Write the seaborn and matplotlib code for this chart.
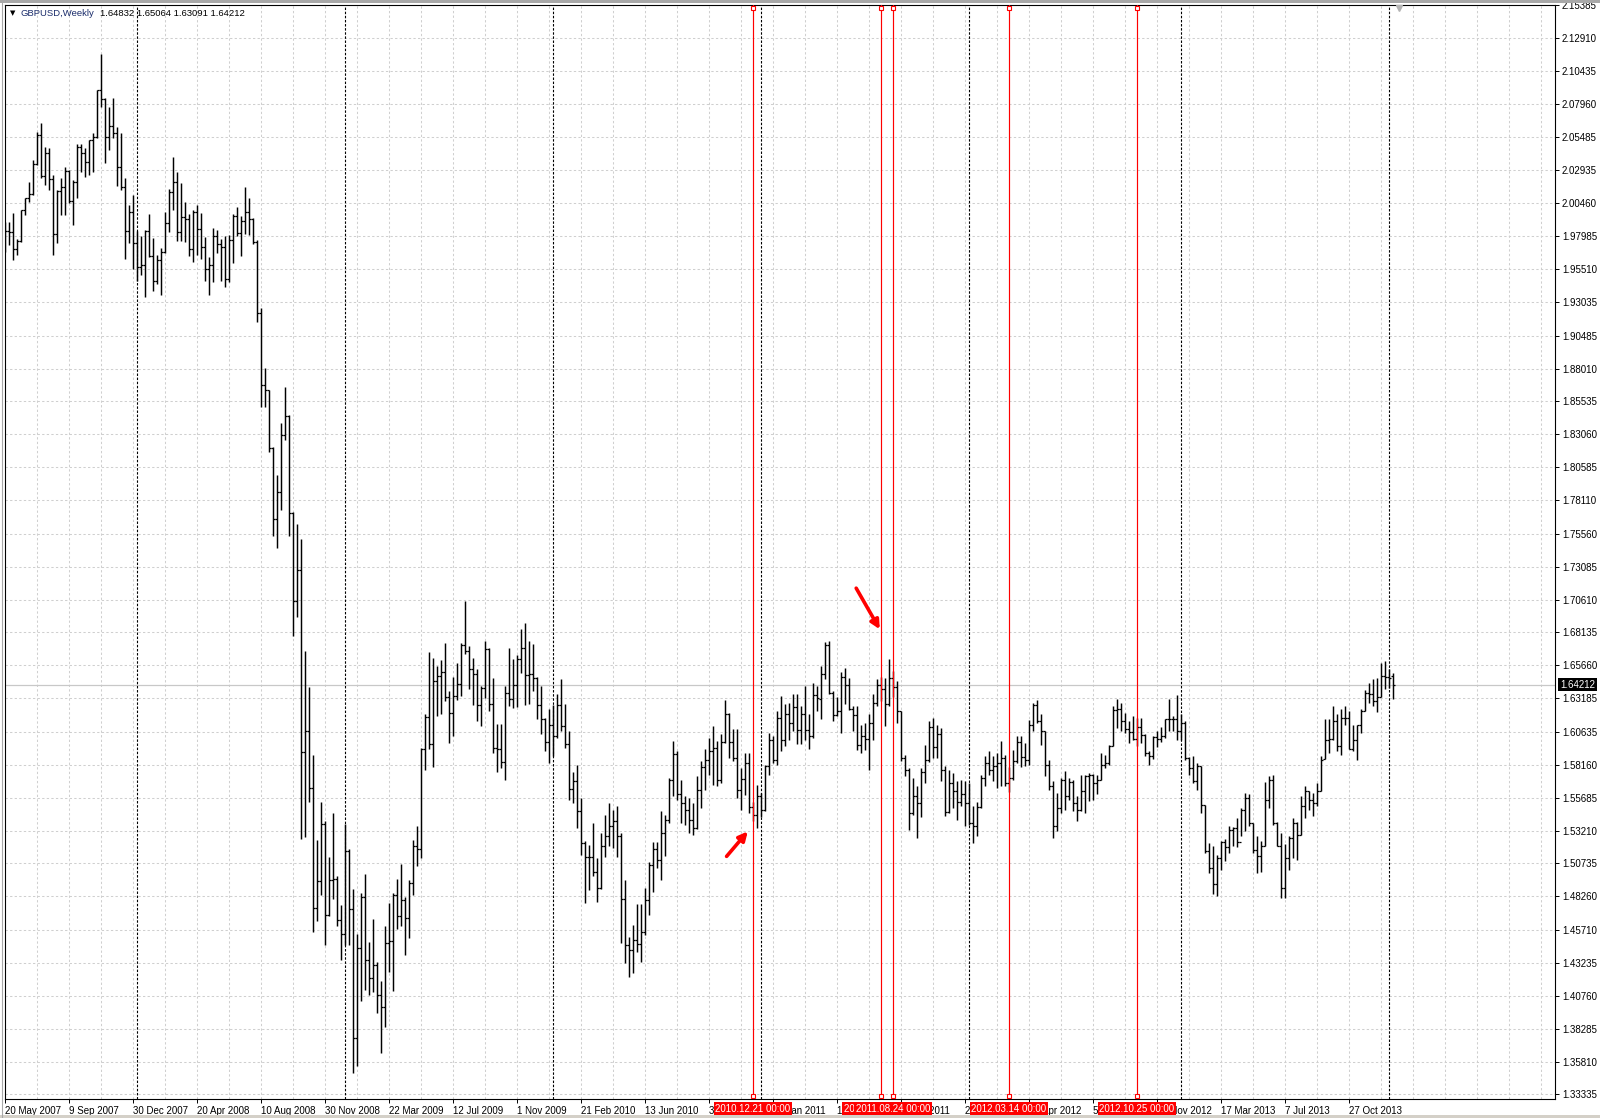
import numpy as np
import matplotlib
matplotlib.use("Agg")
import matplotlib.pyplot as plt
import seaborn as sns

# GBPUSD weekly bars, bar 0 = week of 20 May 2007
bar_open = [
    1.9850, 1.9838, 1.9826, 1.9700, 1.9763, 1.9992, 2.0082, 2.0113, 2.0344, 2.0560,
    2.0251, 2.0422, 2.0228, 1.9818, 2.0138, 2.0170, 2.0291, 2.0065, 2.0208, 2.0472,
    2.0422, 2.0359, 2.0523, 2.0545, 2.0900, 2.0830, 2.0545, 2.0631, 2.0573, 2.0321,
    2.0170, 1.9836, 1.9977, 1.9743, 1.9567, 1.9584, 1.9836, 1.9650, 1.9460, 1.9617,
    1.9680, 1.9894, 2.0133, 2.0203, 1.9826, 1.9944, 1.9931, 1.9700, 1.9982, 1.9851,
    1.9718, 1.9549, 1.9579, 1.9801, 1.9736, 1.9714, 1.9476, 1.9766, 1.9952, 1.9822,
    1.9909, 1.9983, 1.9931, 1.9757, 1.9216, 1.8674, 1.8639, 1.8206, 1.7669, 1.7872,
    1.8300, 1.8440, 1.7712, 1.7049, 1.7287, 1.5910, 1.6074, 1.5641, 1.4740, 1.4939,
    1.5372, 1.4688, 1.4948, 1.4956, 1.4650, 1.4545, 1.5164, 1.4731, 1.3760, 1.4436,
    1.4818, 1.4350, 1.4211, 1.4306, 1.4081, 1.3995, 1.4471, 1.4493, 1.4839, 1.4679,
    1.4796, 1.4666, 1.4926, 1.5208, 1.5186, 1.5932, 1.6178, 1.5970, 1.6448, 1.6485,
    1.6515, 1.6330, 1.6209, 1.6335, 1.6422, 1.6719, 1.6674, 1.6541, 1.6503, 1.6264,
    1.6397, 1.6687, 1.6272, 1.5944, 1.5937, 1.5836, 1.6360, 1.6309, 1.6420, 1.6611,
    1.6699, 1.6490, 1.6498, 1.6473, 1.6264, 1.6163, 1.5987, 1.6113, 1.6032, 1.6264,
    1.6108, 1.5977, 1.5635, 1.5693, 1.5471, 1.5227, 1.5122, 1.5122, 1.5006, 1.4888,
    1.5202, 1.5278, 1.5353, 1.5391, 1.5278, 1.4805, 1.4460, 1.4420, 1.4500, 1.4470,
    1.4560, 1.4800, 1.5060, 1.5180, 1.5100, 1.5303, 1.5400, 1.5705, 1.5900, 1.5600,
    1.5530, 1.5480, 1.5400, 1.5340, 1.5630, 1.5800, 1.5850, 1.5920, 1.5944, 1.5700,
    1.5990, 1.6200, 1.5990, 1.5869, 1.5630, 1.5710, 1.5830, 1.5500, 1.5441, 1.5580,
    1.5480, 1.5806, 1.6000, 1.5856, 1.6170, 1.6000, 1.6200, 1.6130, 1.6250, 1.6080,
    1.6200, 1.6080, 1.6030, 1.6340, 1.6310, 1.6500, 1.6720, 1.6359, 1.6195, 1.6221,
    1.6480, 1.6420, 1.6240, 1.6195, 1.5969, 1.6030, 1.6012, 1.6130, 1.6284, 1.6420,
    1.6384, 1.6271, 1.6473, 1.6400, 1.6221, 1.5868, 1.5780, 1.5453, 1.5579, 1.5529,
    1.5760, 1.5850, 1.6100, 1.5950, 1.6050, 1.5780, 1.5460, 1.5680, 1.5620, 1.5540,
    1.5600, 1.5530, 1.5380, 1.5353, 1.5500, 1.5717, 1.5830, 1.5780, 1.5810, 1.5830,
    1.5870, 1.5680, 1.5720, 1.5845, 1.5990, 1.5876, 1.5851, 1.6120, 1.6264, 1.6146,
    1.6070, 1.5818, 1.5655, 1.5358, 1.5490, 1.5700, 1.5580, 1.5690, 1.5530, 1.5480,
    1.5617, 1.5730, 1.5740, 1.5680, 1.5705, 1.5818, 1.5830, 1.5960, 1.6230, 1.6234,
    1.6145, 1.6083, 1.6060, 1.6010, 1.6100, 1.6040, 1.5906, 1.5880, 1.6025, 1.6012,
    1.6032, 1.6160, 1.6158, 1.6163, 1.6070, 1.6130, 1.5869, 1.5790, 1.5693, 1.5805,
    1.5511, 1.5164, 1.5040, 1.4920, 1.5114, 1.5232, 1.5197, 1.5328, 1.5340, 1.5232,
    1.5479, 1.5567, 1.5378, 1.5177, 1.5127, 1.5202, 1.5554, 1.5705, 1.5378, 1.5202,
    1.4888, 1.5114, 1.5265, 1.5378, 1.5290, 1.5504, 1.5617, 1.5554, 1.5529, 1.5617,
    1.5860, 1.6007, 1.6012, 1.6150, 1.5957, 1.6171, 1.6171, 1.5932, 1.6007, 1.6120,
    1.6221, 1.6359, 1.6347, 1.6297, 1.6330, 1.6485, 1.6480, 1.64832,
]
bar_high = [
    1.9906, 1.9906, 1.9969, 1.9780, 1.9994, 2.0087, 2.0208, 2.0372, 2.0586, 2.0654,
    2.0472, 2.0465, 2.0258, 2.0145, 2.0233, 2.0321, 2.0296, 2.0221, 2.0490, 2.0490,
    2.0460, 2.0523, 2.0573, 2.0900, 2.1169, 2.0837, 2.0774, 2.0837, 2.0623, 2.0578,
    2.0233, 2.0032, 2.0107, 1.9836, 1.9798, 1.9843, 1.9962, 1.9786, 1.9655, 1.9710,
    1.9977, 2.0150, 2.0397, 2.0279, 2.0196, 2.0052, 1.9962, 1.9994, 2.0032, 1.9969,
    1.9793, 1.9642, 1.9856, 1.9844, 1.9779, 1.9801, 1.9809, 1.9965, 2.0017, 1.9952,
    2.0169, 2.0082, 1.9935, 1.9766, 1.9259, 1.8804, 1.8640, 1.8210, 1.8002, 1.8392,
    1.8665, 1.8449, 1.7720, 1.7634, 1.7517, 1.6672, 1.6399, 1.5888, 1.5251, 1.5533,
    1.5394, 1.5121, 1.5450, 1.4978, 1.4761, 1.5372, 1.5180, 1.4883, 1.4545, 1.4848,
    1.4991, 1.4480, 1.4657, 1.4330, 1.4189, 1.4601, 1.4774, 1.4852, 1.4956, 1.5069,
    1.4818, 1.4948, 1.5251, 1.5359, 1.5944, 1.6196, 1.6666, 1.6619, 1.6561, 1.6604,
    1.6737, 1.6372, 1.6480, 1.6586, 1.6737, 1.7051, 1.6712, 1.6624, 1.6541, 1.6410,
    1.6750, 1.6699, 1.6473, 1.6121, 1.6121, 1.6410, 1.6693, 1.6611, 1.6641, 1.6843,
    1.6888, 1.6750, 1.6724, 1.6480, 1.6410, 1.6170, 1.6234, 1.6264, 1.6347, 1.6460,
    1.6272, 1.6070, 1.5761, 1.5818, 1.5567, 1.5240, 1.5215, 1.5378, 1.5114, 1.5303,
    1.5441, 1.5529, 1.5479, 1.5504, 1.5300, 1.4950, 1.4520, 1.4611, 1.4769, 1.4769,
    1.4888, 1.5083, 1.5233, 1.5233, 1.5466, 1.5441, 1.5718, 1.5995, 1.5920, 1.5705,
    1.5579, 1.5567, 1.5529, 1.5730, 1.5844, 1.5932, 1.6020, 1.6108, 1.5995, 1.6045,
    1.6304, 1.6208, 1.6083, 1.6083, 1.5793, 1.5906, 1.5906, 1.5540, 1.5667, 1.5605,
    1.5818, 1.6057, 1.6032, 1.6221, 1.6334, 1.6271, 1.6284, 1.6347, 1.6347, 1.6259,
    1.6410, 1.6196, 1.6435, 1.6410, 1.6560, 1.6745, 1.6749, 1.6372, 1.6330, 1.6515,
    1.6548, 1.6473, 1.6258, 1.6258, 1.6120, 1.6133, 1.6196, 1.6347, 1.6465, 1.6480,
    1.6473, 1.6616, 1.6520, 1.6447, 1.6225, 1.5894, 1.5793, 1.5717, 1.5655, 1.5790,
    1.5969, 1.6145, 1.6170, 1.6120, 1.6095, 1.5806, 1.5780, 1.5755, 1.5692, 1.5700,
    1.5692, 1.5680, 1.5504, 1.5540, 1.5743, 1.5881, 1.5919, 1.5881, 1.5906, 1.5994,
    1.5894, 1.5800, 1.5931, 1.6032, 1.6032, 1.5982, 1.6151, 1.6279, 1.6304, 1.6196,
    1.6075, 1.5856, 1.5693, 1.5605, 1.5718, 1.5768, 1.5718, 1.5705, 1.5579, 1.5743,
    1.5743, 1.5756, 1.5745, 1.5743, 1.5906, 1.5894, 1.5969, 1.6259, 1.6314, 1.6284,
    1.6208, 1.6146, 1.6183, 1.6170, 1.6171, 1.6045, 1.5919, 1.6032, 1.6070, 1.6100,
    1.6163, 1.6309, 1.6183, 1.6339, 1.6200, 1.6146, 1.5875, 1.5881, 1.5831, 1.5806,
    1.5515, 1.5227, 1.5202, 1.5140, 1.5240, 1.5260, 1.5358, 1.5348, 1.5416, 1.5491,
    1.5604, 1.5600, 1.5378, 1.5283, 1.5240, 1.5685, 1.5730, 1.5743, 1.5383, 1.5303,
    1.5222, 1.5278, 1.5416, 1.5383, 1.5579, 1.5655, 1.5617, 1.5604, 1.5680, 1.5881,
    1.6163, 1.6158, 1.6259, 1.6196, 1.6234, 1.6259, 1.6221, 1.6120, 1.6120, 1.6234,
    1.6380, 1.6435, 1.6465, 1.6473, 1.6586, 1.6598, 1.6536, 1.65064,
]
bar_low = [
    1.9680, 1.9730, 1.9617, 1.9655, 1.9755, 1.9960, 2.0057, 2.0107, 2.0334, 2.0233,
    2.0183, 2.0145, 1.9655, 1.9750, 1.9957, 1.9957, 2.0045, 1.9881, 2.0082, 2.0284,
    2.0246, 2.0258, 2.0284, 2.0535, 2.0774, 2.0347, 2.0447, 2.0535, 2.0175, 2.0145,
    1.9624, 1.9750, 1.9554, 1.9458, 1.9509, 1.9340, 1.9640, 1.9383, 1.9440, 1.9358,
    1.9670, 1.9831, 1.9994, 1.9760, 1.9760, 1.9755, 1.9650, 1.9604, 1.9660, 1.9629,
    1.9458, 1.9358, 1.9453, 1.9671, 1.9463, 1.9419, 1.9454, 1.9593, 1.9801, 1.9649,
    1.9814, 1.9809, 1.9736, 1.9151, 1.8509, 1.8509, 1.8176, 1.7539, 1.7448, 1.7734,
    1.8262, 1.7539, 1.6789, 1.6928, 1.5260, 1.5273, 1.5533, 1.4558, 1.4644, 1.4839,
    1.4458, 1.4675, 1.4809, 1.4600, 1.4350, 1.4458, 1.4458, 1.3496, 1.3548, 1.4038,
    1.4124, 1.4081, 1.4103, 1.3951, 1.3648, 1.3843, 1.4254, 1.4111, 1.4579, 1.4601,
    1.4384, 1.4514, 1.4839, 1.5056, 1.5114, 1.5776, 1.5932, 1.5801, 1.6183, 1.6196,
    1.6297, 1.5982, 1.6032, 1.6305, 1.6335, 1.6649, 1.6385, 1.6264, 1.6146, 1.6108,
    1.6322, 1.6221, 1.5907, 1.5761, 1.5793, 1.5705, 1.6259, 1.6246, 1.6254, 1.6506,
    1.6264, 1.6272, 1.6372, 1.6158, 1.6045, 1.5919, 1.5831, 1.5882, 1.6020, 1.6070,
    1.5944, 1.5554, 1.5529, 1.5341, 1.5139, 1.4774, 1.4875, 1.4976, 1.4787, 1.4880,
    1.5122, 1.5202, 1.5190, 1.5122, 1.4473, 1.4322, 1.4221, 1.4251, 1.4410, 1.4334,
    1.4535, 1.4686, 1.4862, 1.5039, 1.4950, 1.5127, 1.5380, 1.5579, 1.5554, 1.5378,
    1.5366, 1.5300, 1.5290, 1.5330, 1.5491, 1.5630, 1.5743, 1.5667, 1.5655, 1.5681,
    1.5982, 1.5869, 1.5844, 1.5567, 1.5479, 1.5592, 1.5454, 1.5391, 1.5340, 1.5420,
    1.5470, 1.5743, 1.5831, 1.5818, 1.5919, 1.5957, 1.6007, 1.6070, 1.5975, 1.5975,
    1.6007, 1.5932, 1.6020, 1.6221, 1.6160, 1.6460, 1.6347, 1.6145, 1.6183, 1.6057,
    1.6271, 1.6233, 1.6070, 1.5931, 1.5906, 1.5931, 1.5780, 1.6007, 1.6258, 1.6300,
    1.6107, 1.6258, 1.6330, 1.6133, 1.5843, 1.5730, 1.5328, 1.5441, 1.5265, 1.5420,
    1.5680, 1.5840, 1.5868, 1.5868, 1.5692, 1.5428, 1.5453, 1.5491, 1.5403, 1.5510,
    1.5353, 1.5360, 1.5227, 1.5277, 1.5490, 1.5655, 1.5743, 1.5692, 1.5642, 1.5655,
    1.5655, 1.5610, 1.5700, 1.5831, 1.5801, 1.5806, 1.5818, 1.6070, 1.6133, 1.5969,
    1.5730, 1.5630, 1.5265, 1.5315, 1.5454, 1.5479, 1.5554, 1.5467, 1.5391, 1.5470,
    1.5454, 1.5542, 1.5550, 1.5600, 1.5700, 1.5793, 1.5818, 1.5955, 1.6095, 1.6070,
    1.6057, 1.5982, 1.6007, 1.5960, 1.5982, 1.5881, 1.5818, 1.5860, 1.5950, 1.5990,
    1.6020, 1.6070, 1.6070, 1.6007, 1.6000, 1.5856, 1.5743, 1.5680, 1.5630, 1.5454,
    1.5152, 1.5001, 1.4840, 1.4825, 1.5026, 1.5089, 1.5152, 1.5202, 1.5197, 1.5278,
    1.5315, 1.5353, 1.5152, 1.5001, 1.5013, 1.5202, 1.5491, 1.5366, 1.5202, 1.4812,
    1.4812, 1.5026, 1.5114, 1.5102, 1.5290, 1.5416, 1.5479, 1.5429, 1.5504, 1.5617,
    1.5860, 1.5907, 1.6007, 1.5919, 1.5894, 1.6120, 1.5932, 1.5919, 1.5856, 1.6057,
    1.6221, 1.6284, 1.6259, 1.6213, 1.6330, 1.6385, 1.6397, 1.63091,
]
bar_close = [
    1.9838, 1.9826, 1.9700, 1.9760, 1.9994, 2.0082, 2.0113, 2.0344, 2.0560, 2.0251,
    2.0422, 2.0228, 1.9818, 2.0138, 2.0170, 2.0291, 2.0065, 2.0208, 2.0472, 2.0422,
    2.0359, 2.0523, 2.0545, 2.0900, 2.0830, 2.0545, 2.0631, 2.0573, 2.0321, 2.0170,
    1.9836, 1.9977, 1.9743, 1.9567, 1.9584, 1.9836, 1.9650, 1.9458, 1.9617, 1.9680,
    1.9894, 2.0133, 2.0203, 1.9826, 1.9944, 1.9931, 1.9700, 1.9982, 1.9851, 1.9718,
    1.9549, 1.9579, 1.9801, 1.9736, 1.9714, 1.9476, 1.9766, 1.9952, 1.9822, 1.9909,
    1.9983, 1.9931, 1.9757, 1.9216, 1.8674, 1.8639, 1.8206, 1.7669, 1.7872, 1.8300,
    1.8440, 1.7712, 1.7049, 1.7287, 1.5910, 1.6074, 1.5641, 1.4740, 1.4939, 1.5372,
    1.4688, 1.4948, 1.4956, 1.4650, 1.4545, 1.5164, 1.4731, 1.3760, 1.4436, 1.4818,
    1.4350, 1.4211, 1.4306, 1.4081, 1.3995, 1.4471, 1.4493, 1.4839, 1.4679, 1.4796,
    1.4666, 1.4926, 1.5208, 1.5186, 1.5932, 1.6178, 1.5970, 1.6448, 1.6485, 1.6515,
    1.6330, 1.6209, 1.6335, 1.6422, 1.6719, 1.6674, 1.6541, 1.6503, 1.6264, 1.6397,
    1.6687, 1.6272, 1.5944, 1.5937, 1.5836, 1.6360, 1.6309, 1.6420, 1.6611, 1.6699,
    1.6490, 1.6498, 1.6473, 1.6264, 1.6163, 1.5987, 1.6113, 1.6032, 1.6264, 1.6108,
    1.5977, 1.5635, 1.5693, 1.5471, 1.5227, 1.5122, 1.5122, 1.5006, 1.4888, 1.5202,
    1.5278, 1.5353, 1.5391, 1.5278, 1.4805, 1.4460, 1.4420, 1.4500, 1.4470, 1.4560,
    1.4800, 1.5060, 1.5180, 1.5100, 1.5303, 1.5400, 1.5705, 1.5900, 1.5600, 1.5530,
    1.5480, 1.5400, 1.5340, 1.5630, 1.5800, 1.5850, 1.5920, 1.5944, 1.5700, 1.5990,
    1.6200, 1.5990, 1.5869, 1.5630, 1.5710, 1.5830, 1.5500, 1.5441, 1.5580, 1.5480,
    1.5806, 1.6000, 1.5856, 1.6170, 1.6000, 1.6200, 1.6130, 1.6250, 1.6080, 1.6200,
    1.6080, 1.6030, 1.6340, 1.6320, 1.6500, 1.6720, 1.6359, 1.6195, 1.6221, 1.6480,
    1.6420, 1.6240, 1.6195, 1.5969, 1.6030, 1.6012, 1.6130, 1.6284, 1.6420, 1.6384,
    1.6271, 1.6473, 1.6400, 1.6221, 1.5868, 1.5780, 1.5453, 1.5579, 1.5529, 1.5760,
    1.5850, 1.6100, 1.5950, 1.6050, 1.5780, 1.5460, 1.5680, 1.5620, 1.5540, 1.5600,
    1.5530, 1.5380, 1.5353, 1.5500, 1.5717, 1.5830, 1.5780, 1.5810, 1.5830, 1.5870,
    1.5680, 1.5720, 1.5845, 1.5990, 1.5876, 1.5851, 1.6120, 1.6264, 1.6146, 1.6070,
    1.5818, 1.5655, 1.5358, 1.5490, 1.5700, 1.5580, 1.5690, 1.5530, 1.5480, 1.5617,
    1.5730, 1.5740, 1.5680, 1.5705, 1.5818, 1.5830, 1.5960, 1.6230, 1.6234, 1.6145,
    1.6083, 1.6060, 1.6010, 1.6100, 1.6040, 1.5906, 1.5880, 1.6025, 1.6012, 1.6032,
    1.6160, 1.6158, 1.6163, 1.6070, 1.6130, 1.5869, 1.5790, 1.5693, 1.5805, 1.5511,
    1.5164, 1.5040, 1.4920, 1.5114, 1.5232, 1.5197, 1.5328, 1.5340, 1.5232, 1.5479,
    1.5567, 1.5378, 1.5177, 1.5127, 1.5202, 1.5554, 1.5705, 1.5378, 1.5202, 1.4888,
    1.5114, 1.5265, 1.5378, 1.5290, 1.5504, 1.5617, 1.5554, 1.5529, 1.5617, 1.5856,
    1.6007, 1.6012, 1.6150, 1.5957, 1.6171, 1.6171, 1.5932, 1.6007, 1.6120, 1.6221,
    1.6359, 1.6347, 1.6297, 1.6330, 1.6485, 1.6480, 1.6470, 1.64212,
]

# bottom axis labels, one every 16 weeks from the first bar
date_labels = [
    "20 May 2007", "9 Sep 2007", "30 Dec 2007", "20 Apr 2008", "10 Aug 2008",
    "30 Nov 2008", "22 Mar 2009", "12 Jul 2009", "1 Nov 2009", "21 Feb 2010",
    "13 Jun 2010", "3 Oct 2010", "23 Jan 2011", "15 May 2011", "4 Sep 2011",
    "25 Dec 2011", "15 Apr 2012", "5 Aug 2012", "25 Nov 2012", "17 Mar 2013",
    "7 Jul 2013", "27 Oct 2013",
]
# price scale on the right
price_levels = [
    "2.15385", "2.12910", "2.10435", "2.07960", "2.05485", "2.02935", "2.00460",
    "1.97985", "1.95510", "1.93035", "1.90485", "1.88010", "1.85535", "1.83060",
    "1.80585", "1.78110", "1.75560", "1.73085", "1.70610", "1.68135", "1.65660",
    "1.63185", "1.60635", "1.58160", "1.55685", "1.53210", "1.50735", "1.48260",
    "1.45710", "1.43235", "1.40760", "1.38285", "1.35810", "1.33335",
]
# first week of each year
separator_bars = [33, 85, 137, 189, 241, 294, 346]
# red vertical line objects and their time labels
vline_bars = [187, 219, 222, 251, 283]
vline_labels = ["2010.12.21 00:00", "2011.08.03 00:00", "2011.08.24 00:00",
                "2012.03.14 00:00", "2012.10.25 00:00"]
# the two hand-drawn arrows: (tail bar, tail price, head bar, head price)
arrows = [(180.4, 1.5127, 185.7, 1.5315), (212.8, 1.7147, 218.7, 1.6837)]

sns.set_theme(style="white")
plt.rcParams["font.family"] = ["Liberation Sans", "DejaVu Sans"]

W, H = 1600, 1118
fig = plt.figure(figsize=(W / 100, H / 100), dpi=100)
fig.patch.set_facecolor("white")
ax = fig.add_axes([4.5 / W, 1 - 1099 / H, 1550.5 / W, 1094 / H])
ax.set_facecolor("white")

n = len(bar_open)
idx = np.arange(n)

# dashed grid
grid_kw = dict(color="#cfcfcf", lw=0.75, dashes=(2.2, 2.2), zorder=0)
for p in price_levels:
    ax.axhline(float(p), **grid_kw)
for b in range(8, 390, 8):
    ax.axvline(b, **grid_kw)

# bid line
last_price = bar_close[-1]
ax.axhline(last_price, color="#c8c8c8", lw=0.9, zorder=1)

# period separators
for b in separator_bars:
    ax.axvline(b, color="black", lw=0.8, dashes=(2.2, 1.5), zorder=2)

# OHLC bars
ax.vlines(idx, bar_low, bar_high, color="black", lw=1.05, zorder=4)
ax.hlines(bar_open, idx - 0.45, idx, color="black", lw=0.9, zorder=4)
ax.hlines(bar_close, idx, idx + 0.45, color="black", lw=0.9, zorder=4)

# red vertical lines
xt = ax.get_xaxis_transform()
for b in vline_bars:
    ax.axvline(b, color="red", lw=0.85, zorder=5)
    ax.plot([b, b], [0.9975, 0.0028], ls="none", marker="s", ms=3.2,
            mfc="white", mec="red", mew=0.8, transform=xt, zorder=6, clip_on=False)

# arrows
for x0, y0, x1, y1 in arrows:
    ax.annotate("", xy=(x1, y1), xytext=(x0, y0),
                arrowprops=dict(arrowstyle="-|>", color="red", lw=2.6,
                                mutation_scale=13, shrinkA=0, shrinkB=0),
                zorder=7)

ax.set_xlim(-0.12, 387.5)
ax.set_ylim(1.32996, 2.15393)

# axes, ticks and labels
for s in ax.spines.values():
    s.set_color("black")
    s.set_linewidth(0.8)
ax.set_xticks(idx[::16][:len(date_labels)])
ax.set_xticklabels(date_labels, ha="left", fontsize=7)
ax.yaxis.tick_right()
ax.set_yticks([float(p) for p in price_levels])
ax.set_yticklabels(price_levels, fontsize=7)
ax.tick_params(axis="x", direction="out", length=3, width=0.7, pad=2,
               colors="black", bottom=True)
ax.tick_params(axis="y", direction="out", length=3, width=0.7, pad=2,
               colors="black", right=True, left=False)

# current price tag
ax.text(1.0035, last_price, f"{last_price:.5f}", transform=ax.get_yaxis_transform(),
        ha="left", va="center", fontsize=7, color="white",
        bbox=dict(boxstyle="square,pad=0.2", fc="black", ec="none"),
        zorder=10, clip_on=False)

# time labels of the red lines
for b, lab in zip(vline_bars, vline_labels):
    ax.text(b, -0.0088, lab, transform=xt, ha="center", va="center",
            fontsize=7, color="white",
            bbox=dict(boxstyle="square,pad=0.17", fc="red", ec="none"),
            zorder=10, clip_on=False)

# chart title: symbol in navy, last bar values in black
ax.text(0.0035, 0.9926, "\u25bc", transform=ax.transAxes, fontsize=5,
        ha="left", va="center", color="black", family=["DejaVu Sans"])
ax.text(0.0100, 0.9926, "GBPUSD,Weekly", transform=ax.transAxes, fontsize=6.8,
        ha="left", va="center", color="#1a2c6b")
values = (f"{bar_open[-1]:.5f} {bar_high[-1]:.5f} "
          f"{bar_low[-1]:.5f} {bar_close[-1]:.5f}")
ax.text(0.0616, 0.9926, values, transform=ax.transAxes, fontsize=6.8,
        ha="left", va="center", color="black")

# chart shift marker
ax.plot([348.4], [0.9975], marker="v", ms=5, color="#b4b4b4", ls="none",
        transform=xt, zorder=6, clip_on=False)

# window border
fig.add_artist(plt.Rectangle((0, 1 - 2.6 / H), 1, 2.6 / H, color="#a8a8a8", lw=0))
fig.add_artist(plt.Line2D([2 / W, 2 / W], [0, 1], color="#a8a8a8", lw=0.8))
fig.add_artist(plt.Rectangle((0, 0), 1, 3.5 / H, color="#d4d0c8", lw=0))

fig.savefig("out.png", dpi=100)
